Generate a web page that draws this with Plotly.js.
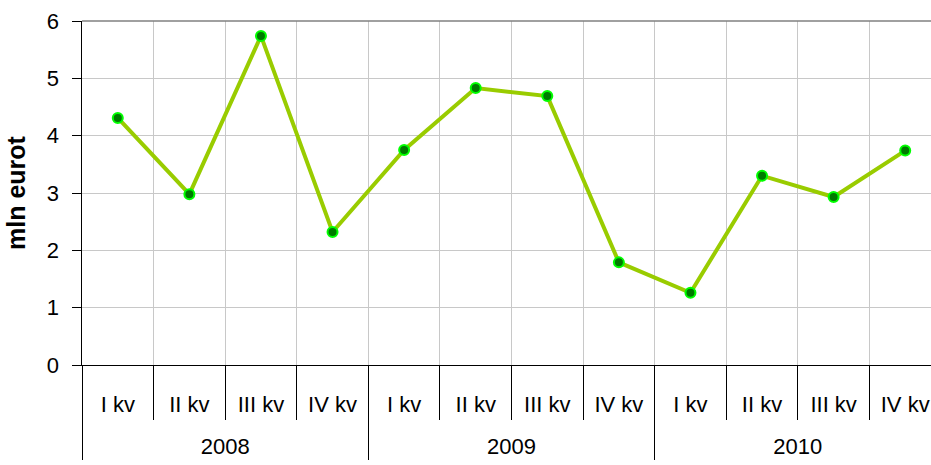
<!DOCTYPE html>
<html>
<head>
<meta charset="utf-8">
<script src="https://cdn.plot.ly/plotly-3.0.1.min.js"></script>
<style>
  html, body { margin: 0; padding: 0; background: #fff; overflow: hidden; }
  #chart { width: 945px; height: 465px; }
</style>
</head>
<body>
<div id="chart"></div>
<script>
const years = ["2008", "2008", "2008", "2008", "2009", "2009", "2009", "2009", "2010", "2010", "2010", "2010"];
const quarters = ["I kv", "II kv", "III kv", "IV kv", "I kv", "II kv", "III kv", "IV kv", "I kv", "II kv", "III kv", "IV kv"];
const values = [4.31, 2.98, 5.74, 2.32, 3.75, 4.83, 4.69, 1.79, 1.26, 3.30, 2.93, 3.74];
const yTicks = [0, 1, 2, 3, 4, 5, 6];

const FONT = "Liberation Sans, Arial, sans-serif";

// a taller blank line under the quarter labels pushes the year row down
const quarterLabels = quarters.map((q) => q + "<br><span style='font-size:54px'> </span>");

const data = [
  {
    x: [years, quarterLabels],
    y: values,
    type: "scatter",
    mode: "lines+markers",
    line: { color: "#99cc00", width: 4 },
    marker: { color: "#007a00", size: 10, line: { color: "#00ff00", width: 2 } },
    hoverinfo: "skip"
  }
];

const layout = {
  width: 945,
  height: 465,
  margin: { t: 21, r: 4, b: 100, l: 82 },
  paper_bgcolor: "#ffffff",
  plot_bgcolor: "#ffffff",
  showlegend: false,
  font: { family: FONT, size: 22, color: "#000" },
  xaxis: {
    type: "multicategory",
    range: [-0.5, 11.5],
    tickson: "boundaries",
    showgrid: true,
    gridcolor: "#c8c8c8",
    gridwidth: 1,
    showline: true,
    linecolor: "#000",
    linewidth: 1,
    ticks: "outside",
    ticklen: 54,
    tickcolor: "#000",
    ticklabelstandoff: 20,
    showdividers: true,
    dividercolor: "#000",
    dividerwidth: 1,
    tickfont: { family: FONT, size: 22, color: "#000" },
    zeroline: false
  },
  yaxis: {
    range: [0, 6],
    tickvals: yTicks,
    showgrid: true,
    gridcolor: "#c8c8c8",
    gridwidth: 1,
    showline: true,
    linecolor: "#000",
    linewidth: 1.5,
    ticks: "outside",
    ticklen: 9,
    tickcolor: "#000",
    ticklabelstandoff: 8,
    zeroline: false,
    tickfont: { family: FONT, size: 22, color: "#000" },
    title: { text: "mln eurot", font: { family: FONT, size: 25, color: "#000", weight: "bold" }, standoff: 14 }
  },
  shapes: [
    { type: "line", xref: "paper", yref: "paper", x0: 0, x1: 1, y0: 1, y1: 1, line: { color: "#808080", width: 1.5 } }
  ]
};

Plotly.newPlot("chart", data, layout, { displayModeBar: false, staticPlot: true });
</script>
</body>
</html>
